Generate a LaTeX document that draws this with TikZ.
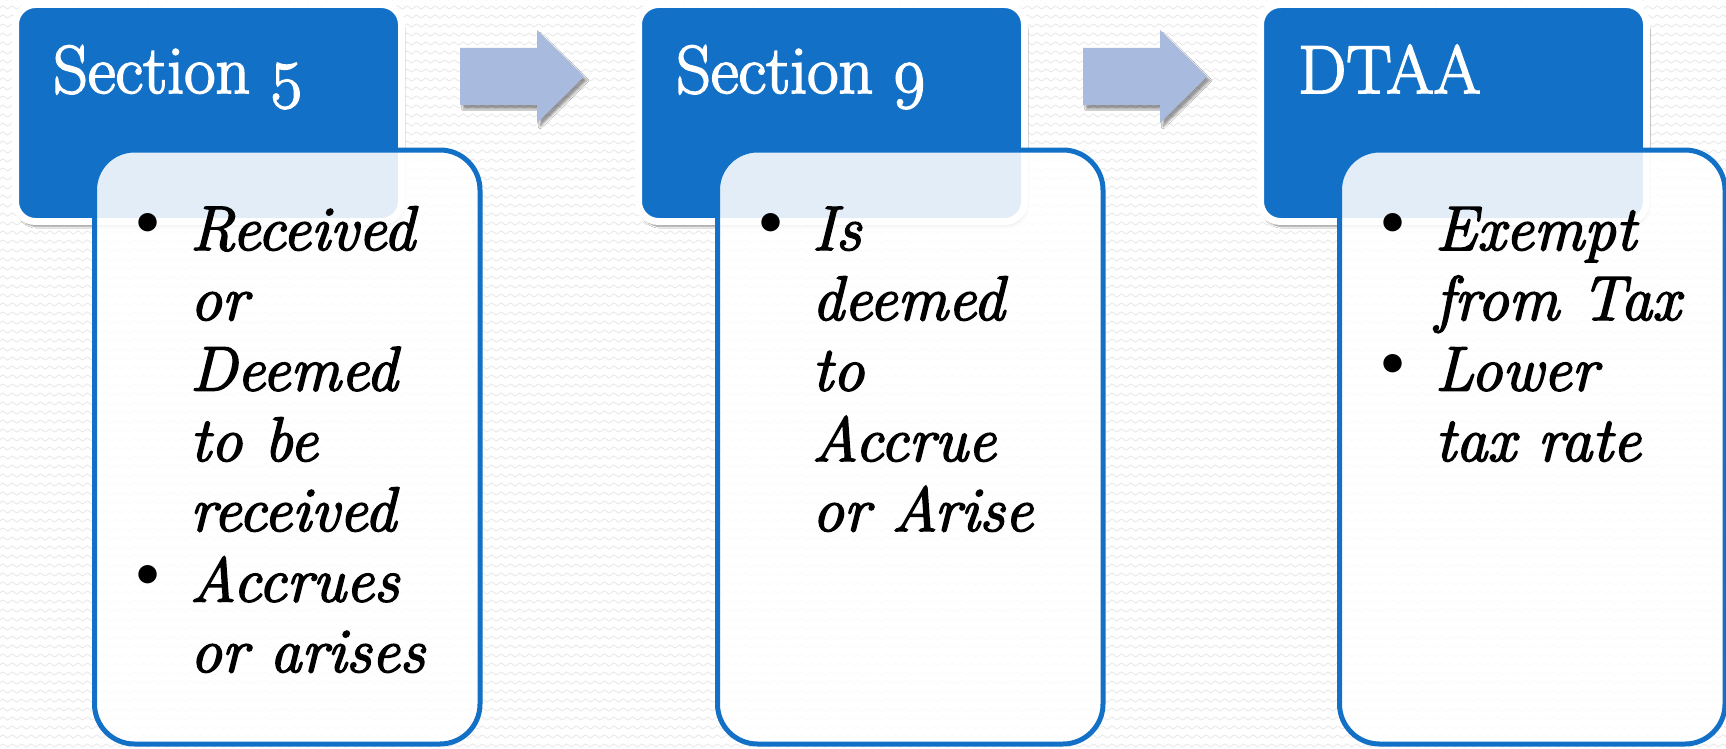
\documentclass[tikz,border=0pt]{standalone}
\usepackage{fontspec}
\setmainfont{Latin Modern Roman}[FakeBold=2.5]
\newfontfamily\bulfam{Latin Modern Roman}
\usetikzlibrary{shadows.blur,patterns}
\definecolor{hdrblue}{RGB}{18,112,198}
\definecolor{arrowblue}{RGB}{169,186,223}
\definecolor{wavegray}{RGB}{234,234,234}
\pgfdeclarepatternformonly{softwaves}{\pgfqpoint{-1pt}{-1pt}}{\pgfqpoint{10pt}{10pt}}{\pgfqpoint{9.4pt}{9pt}}{%
  \pgfsetlinewidth{0.9pt}%
  \pgfpathmoveto{\pgfqpoint{0pt}{3pt}}%
  \pgfpathcurveto{\pgfqpoint{1.5pt}{5.5pt}}{\pgfqpoint{3.2pt}{5.5pt}}{\pgfqpoint{4.7pt}{4pt}}%
  \pgfpathcurveto{\pgfqpoint{6.2pt}{2.5pt}}{\pgfqpoint{7.9pt}{0.5pt}}{\pgfqpoint{9.4pt}{3pt}}%
  \pgfusepath{stroke}%
}
\newcommand{\myTitle}{\fontsize{68}{70}\selectfont}
\newcommand{\myBody}{\fontsize{63}{70}\selectfont\itshape}
\newcommand{\myOld}[1]{\raisebox{-0.22em}{#1}}
\tikzset{
  hdr/.style={draw=white, line width=7pt, fill=hdrblue, rounded corners=20pt,
    minimum width=386pt, minimum height=217pt, inner sep=0pt,
    blur shadow={shadow xshift=2pt, shadow yshift=-5pt, shadow blur steps=8, shadow opacity=45}},
  card/.style={draw=hdrblue, line width=5pt, fill=white, fill opacity=0.88, rounded corners=40pt,
    minimum width=385.5pt, minimum height=594pt, inner sep=0pt},
  blockarrow/.style={fill=arrowblue,
    blur shadow={shadow xshift=3pt, shadow yshift=-4pt, shadow blur steps=6, shadow opacity=40}},
  ttl/.style={text=white, font=\myTitle, anchor=base west, inner sep=0pt},
  bodyline/.style={text=black, font=\myBody, anchor=base west, inner sep=0pt},
  bul/.style={text=black, font=\bulfam\fontsize{82}{82}\selectfont, inner sep=0pt}
}
\begin{document}
\begin{tikzpicture}[x=1pt,y=-1pt]
\useasboundingbox (0,0) rectangle (1726,749);
\fill[white] (0,0) rectangle (1726,749);
\fill[pattern=softwaves, pattern color=wavegray] (0,0) rectangle (1726,749);

% header boxes
\node[hdr] (h1) at (208.5,113) {};
\node[hdr] (h2) at (831.5,113) {};
\node[hdr] (h3) at (1453.5,113) {};

% titles
\node[ttl] (t1) at (53,93) {Section \myOld{5}};
\node[ttl] (t2) at (676,93) {Section \myOld{9}};
\node[ttl] (t3) at (1298,93) {DTAA};

% arrows
\fill[blockarrow] (460,48) -- (537,48) -- (537,30) -- (584,76.5) -- (537,123) -- (537,105) -- (460,105) -- cycle;
\fill[blockarrow] (1083,48) -- (1160,48) -- (1160,30) -- (1207,76.5) -- (1160,123) -- (1160,105) -- (1083,105) -- cycle;

% cards
\node[card] (c1) at (287.25,447) {};
\node[card] (c2) at (910.25,447) {};
\node[card] (c3) at (1532.25,447) {};

% card 1 text
\node[bul] (c1b1) at (148.5,229) {\textbullet};
\node[bodyline] (c1l1) at (190,250) {Received};
\node[bodyline] (c1l2) at (190,320) {or};
\node[bodyline] (c1l3) at (190,390.5) {Deemed};
\node[bodyline] (c1l4) at (190,461) {to be};
\node[bodyline] (c1l5) at (190,531) {received};
\node[bul] (c1b2) at (148.5,581) {\textbullet};
\node[bodyline] (c1l6) at (190,601.5) {Accrues};
\node[bodyline] (c1l7) at (190,672) {or arises};

% card 2 text
\node[bul] (c2b1) at (771.5,229) {\textbullet};
\node[bodyline] (c2l1) at (812,250) {Is};
\node[bodyline] (c2l2) at (812,320) {deemed};
\node[bodyline] (c2l3) at (812,390.5) {to};
\node[bodyline] (c2l4) at (812,461) {Accrue};
\node[bodyline] (c2l5) at (812,531) {or Arise};

% card 3 text
\node[bul] (c3b1) at (1393.5,229) {\textbullet};
\node[bodyline] (c3l1) at (1435,250) {Exempt};
\node[bodyline] (c3l2) at (1435,320) {from Tax};
\node[bul] (c3b2) at (1393.5,369.5) {\textbullet};
\node[bodyline] (c3l3) at (1435,390.5) {Lower};
\node[bodyline] (c3l4) at (1435,461) {tax rate};
\end{tikzpicture}
\end{document}
